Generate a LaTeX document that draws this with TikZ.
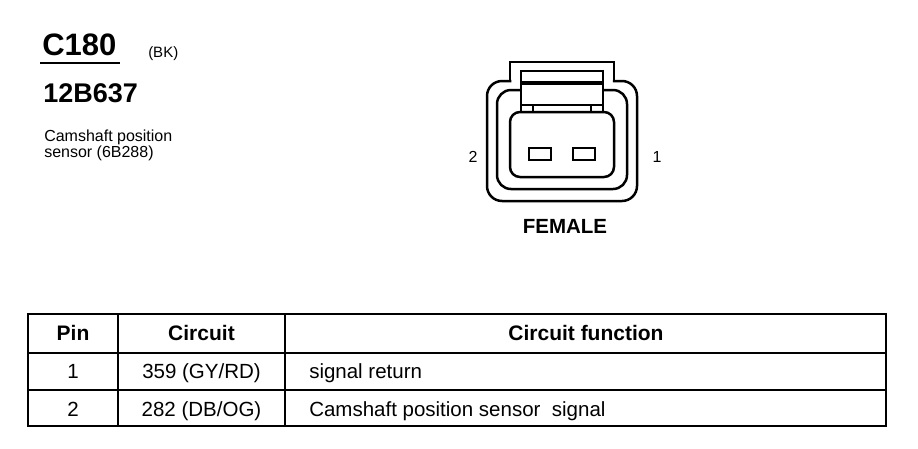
\documentclass[tikz,border=0pt]{standalone}
\usepackage{fontspec}
\setmainfont{Liberation Sans}

\begin{document}
\begin{tikzpicture}[x=1pt, y=-1pt, line width=2.5pt,
    txt/.style = {inner sep=0pt, anchor=base west},
    mid/.style = {inner sep=0pt, anchor=base},
    hdr/.style = {font=\fontsize{21}{25}\selectfont\bfseries},
    cell/.style = {font=\fontsize{20.5}{24}\selectfont}]
        \useasboundingbox (0,0) rectangle (918,448);

        % title block
        \node[txt, font=\fontsize{31}{36}\selectfont\bfseries] (c180) at (41,55) {C180};
        \node[txt, font=\fontsize{15}{17}\selectfont] (bk) at (147,57) {(BK)};
        \draw[line width=2pt] ([xshift=-1pt,yshift=-8pt]c180.base west) -- ([xshift=2pt,yshift=-8pt]c180.base east);
        \node[txt, font=\fontsize{27}{32}\selectfont\bfseries] (part) at (42,102) {12B637};
        \node[txt, font=\fontsize{16}{18}\selectfont] (desc1) at (43,141) {Camshaft position};
        \node[txt, font=\fontsize{16}{18}\selectfont] (desc2) at (43,157) {sensor (6B288)};

        % connector face
        \draw (510,81) -- (510,62) -- (614,62) -- (614,81);
        \draw[rounded corners=15pt] (511.25,81) -- (487,81) -- (487,201) -- (637,201) -- (637,81) -- (612.75,81);
        \draw[rounded corners=14pt] (521,90) -- (497,90) -- (497,189) -- (627,189) -- (627,90) -- (603,90);
        \draw (521,112) -- (521,71) -- (603,71) -- (603,112);
        \draw[line width=4pt] (521,83) -- (603,83);
        \draw (521,105) -- (603,105);
        \draw (533,105) -- (533,112);
        \draw (591,105) -- (591,112);
        \draw[rounded corners=10pt] (510,112) rectangle (614,177);
        \draw (529,148) rectangle (551,160);
        \draw (573,148) rectangle (595,160);

        \node[mid, font=\fontsize{16}{18}\selectfont] (pin2) at (473,162) {2};
        \node[mid, font=\fontsize{16}{18}\selectfont] (pin1) at (657,162) {1};
        \node[mid, font=\fontsize{20.5}{24}\selectfont\bfseries] (female) at (565,233) {FEMALE};

        % pin table
        \draw (28,314) rectangle (886,426);
        \draw (28,353) -- (886,353);
        \draw (28,390) -- (886,390);
        \draw (118,314) -- (118,426);
        \draw (285,314) -- (285,426);

        \node[mid, hdr] (hpin) at (73,340) {Pin};
        \node[mid, hdr] (hcirc) at (201.5,340) {Circuit};
        \node[mid, hdr] (hfunc) at (586,340) {Circuit function};

        \node[mid, cell] (r1pin) at (73,378) {1};
        \node[mid, cell] (r1circ) at (201.5,378) {359 (GY/RD)};
        \node[txt, cell] (r1func) at (308,378) {signal return};

        \node[mid, cell] (r2pin) at (73,416) {2};
        \node[mid, cell] (r2circ) at (201.5,416) {282 (DB/OG)};
        \node[txt, cell] (r2func) at (308,416) {Camshaft position sensor\ \ signal};

    \end{tikzpicture}
\end{document}
